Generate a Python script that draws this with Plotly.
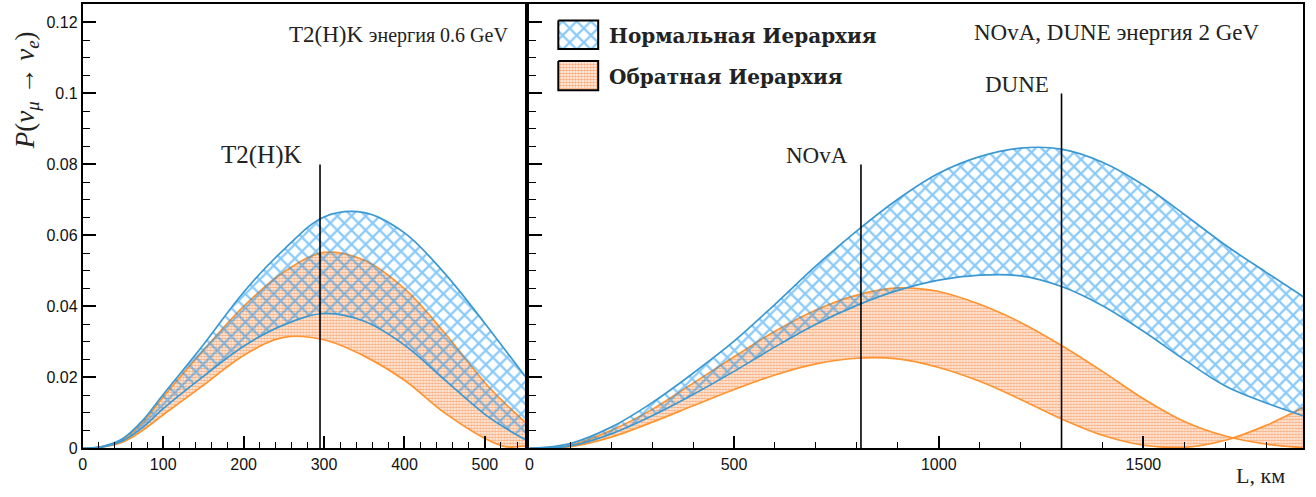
import plotly.graph_objects as go

# ---- T2(H)K, E = 0.6 GeV : oscillation probability bands vs baseline ----
L_t2k = [0, 25, 50, 75, 100, 150, 200, 250, 300, 350, 400, 450, 500, 525, 550]
t2k_nh_max = [0, 0.0006, 0.0028, 0.0080, 0.0152, 0.0292, 0.0440, 0.0560, 0.0652, 0.0664,
              0.0607, 0.0493, 0.0352, 0.0278, 0.0203]
t2k_nh_min = [0, 0.0004, 0.0022, 0.0060, 0.0112, 0.0203, 0.0288, 0.0348, 0.0380, 0.0358,
              0.0291, 0.0193, 0.0096, 0.0058, 0.0025]
t2k_ih_max = [0, 0.0005, 0.0026, 0.0074, 0.0145, 0.0276, 0.0400, 0.0497, 0.0552, 0.0530,
              0.0450, 0.0325, 0.0185, 0.0127, 0.0074]
t2k_ih_min = [0, 0.0004, 0.0018, 0.0052, 0.0095, 0.0178, 0.0262, 0.0313, 0.0306, 0.0260,
              0.0192, 0.0100, 0.0028, 0.0005, 0.0007]

# ---- NOvA / DUNE, E = 2 GeV ----
L_dune = [0, 100, 200, 300, 400, 500, 600, 700, 800, 900, 1000, 1100, 1200, 1300, 1400,
          1500, 1600, 1700, 1800, 1890]
dune_nh_max = [0, 0.0014, 0.0060, 0.0129, 0.0212, 0.0302, 0.0406, 0.0514, 0.0613, 0.0702,
               0.0775, 0.0822, 0.0846, 0.0843, 0.0806, 0.0742, 0.0659, 0.0573, 0.0496, 0.0428]
dune_nh_min = [0, 0.0007, 0.0041, 0.0092, 0.0152, 0.0217, 0.0286, 0.0350, 0.0403, 0.0445,
               0.0474, 0.0488, 0.0486, 0.0456, 0.0402, 0.0330, 0.0250, 0.0176, 0.0128, 0.0092]
dune_ih_a = [0, 0.0009, 0.0051, 0.0110, 0.0184, 0.0258, 0.0330, 0.0390, 0.0432, 0.0452,
             0.0442, 0.0406, 0.0355, 0.0290, 0.0217, 0.0140, 0.0076, 0.0035, 0.0012, 0.0002]
dune_ih_b = [0, 0.0005, 0.0032, 0.0074, 0.0120, 0.0166, 0.0207, 0.0238, 0.0254, 0.0252,
             0.0228, 0.0189, 0.0138, 0.0083, 0.0037, 0.0009, 0.0003, 0.0023, 0.0065, 0.0115]

# ---- experiments: baseline (km) and height of the marker line ----
exp_names = ["T2(H)K", "NOvA", "DUNE"]
exp_L = [295, 810, 1300]
exp_top = [0.08, 0.08, 0.10]
exp_panel = [1, 2, 2]

panel_titles = ["T2(H)K <span style='font-size:20px'>энергия 0.6 GeV</span>",
                "NOvA, DUNE энергия 2 GeV"]
legend_names = ["Нормальная Иерархия", "Обратная Иерархия"]
y_title = "<i>P</i>(<i>ν</i><sub><i>μ</i></sub> → <i>ν</i><sub><i>e</i></sub>)"
x_title = "L, км"

W, H = 1316, 497
BLUE_LINE = "#3a98d2"
BLUE_HATCH = "#1596f5"
ORANGE_LINE = "#ff9430"
ORANGE_DOT = "#f65e00"
SERIF = "Liberation Serif"


def px(x):
    return x / W


def py(y):
    return 1 - y / H


hatch = dict(shape="x", size=10, solidity=0.4, fgcolor=BLUE_HATCH,
             bgcolor="rgba(0,0,0,0)")
dots = dict(shape=".", size=3, solidity=0.62, fgcolor=ORANGE_DOT,
            bgcolor="rgba(0,0,0,0)")

fig = go.Figure()


def band(xs, lo, hi, xa, ya, line_color, pattern):
    ln = dict(color=line_color, width=1.7, shape="spline", smoothing=1.0)
    fig.add_trace(go.Scatter(x=xs, y=lo, mode="lines", line=ln, xaxis=xa, yaxis=ya,
                             showlegend=False, hoverinfo="skip"))
    fig.add_trace(go.Scatter(x=xs, y=hi, mode="lines", line=ln, xaxis=xa, yaxis=ya,
                             fill="tonexty", fillcolor="rgba(0,0,0,0)",
                             fillpattern=pattern, showlegend=False, hoverinfo="skip"))


# orange (inverted) first, blue hatch drawn over it
band(L_t2k, t2k_ih_min, t2k_ih_max, "x", "y", ORANGE_LINE, dots)
band(L_t2k, t2k_nh_min, t2k_nh_max, "x", "y", BLUE_LINE, hatch)
band(L_dune, dune_ih_b, dune_ih_a, "x2", "y2", ORANGE_LINE, dots)
band(L_dune, dune_nh_min, dune_nh_max, "x2", "y2", BLUE_LINE, hatch)

# experiment markers
annotations = []
shapes = []
for name, L, top, p in zip(exp_names, exp_L, exp_top, exp_panel):
    xr = "x" if p == 1 else "x2"
    yr = "y" if p == 1 else "y2"
    shapes.append(dict(type="line", xref=xr, yref=yr, x0=L, x1=L, y0=0, y1=top,
                       line=dict(color="black", width=1.6), layer="above"))
    annotations.append(dict(xref=xr, yref=yr, x=L, y=top, text=name, showarrow=False,
                            xanchor="right", yanchor="middle",
                            xshift=-16 if p == 1 else -11, yshift=9,
                            font=dict(family=SERIF, size=25 if p == 1 else 23, color="#222")))

# panel headers
annotations.append(dict(xref="paper", yref="paper", x=px(508), y=py(35), text=panel_titles[0],
                        showarrow=False, xanchor="right", yanchor="middle",
                        font=dict(family=SERIF, size=23, color="#222")))
annotations.append(dict(xref="paper", yref="paper", x=px(1261), y=py(33), text=panel_titles[1],
                        showarrow=False, xanchor="right", yanchor="middle",
                        font=dict(family=SERIF, size=23, color="#222")))

# axis titles
annotations.append(dict(xref="paper", yref="paper", x=px(23), y=py(92), text=y_title,
                        textangle=-90, showarrow=False, xanchor="center", yanchor="middle",
                        font=dict(family=SERIF, size=27, color="#222")))
annotations.append(dict(xref="paper", yref="paper", x=px(1287), y=py(484), text=x_title,
                        showarrow=False, xanchor="right", yanchor="middle",
                        font=dict(family=SERIF, size=22, color="#222")))

# legend: swatches drawn on a pixel-space overlay axis
sw_x0, sw_x1 = 556, 596
sw_rows = [(21, 50), (62, 92)]
for (y0, y1), pat, name in zip(sw_rows, [hatch, dots], legend_names):
    fig.add_trace(go.Scatter(x=[sw_x0, sw_x1, sw_x1, sw_x0, sw_x0],
                             y=[y0, y0, y1, y1, y0], mode="lines", fill="toself",
                             fillcolor="rgba(0,0,0,0)", fillpattern=pat,
                             line=dict(color="black", width=2), xaxis="x3", yaxis="y3",
                             showlegend=False, hoverinfo="skip"))
    annotations.append(dict(xref="paper", yref="paper", x=px(605), y=py((y0 + y1) / 2 + 1),
                            text="<b>" + name + "</b>", showarrow=False, xanchor="left",
                            yanchor="middle",
                            font=dict(family="DejaVu Serif", size=20, color="#222")))

tickfont = dict(family="Liberation Sans", size=16, color="#111")
common = dict(showgrid=False, zeroline=False, showline=True, linecolor="black", linewidth=2,
              mirror=True, ticks="inside", tickcolor="black", tickwidth=1.6, tickfont=tickfont)
minor_x = dict(ticks="inside", ticklen=6, tickcolor="black", tickwidth=1.3, showgrid=False)
minor_y = dict(ticks="inside", ticklen=7, tickcolor="black", tickwidth=1.3, showgrid=False,
               dtick=0.005)

ydom = [1 - 456.7 / H, 1 - 4 / H]
fig.update_layout(
    width=W, height=H,
    margin=dict(l=0, r=0, t=0, b=0),
    paper_bgcolor="white", plot_bgcolor="rgba(0,0,0,0)",
    showlegend=False,
    xaxis=dict(domain=[px(79), px(522.7)], range=[0, 550], dtick=100, tick0=0, ticklen=12,
               minor=dict(dtick=20, **minor_x), anchor="y", **common),
    xaxis2=dict(domain=[px(527), px(1303)], range=[0, 1890], dtick=500, tick0=0, ticklen=12,
                minor=dict(dtick=100, **minor_x), anchor="y2", **common),
    yaxis=dict(domain=ydom, range=[0, 0.1252], dtick=0.02, tick0=0, ticklen=13,
               minor=minor_y, anchor="x", **common),
    yaxis2=dict(domain=ydom, range=[0, 0.1252], dtick=0.02, tick0=0, ticklen=13,
                minor=minor_y, anchor="x2", showticklabels=False, **common),
    xaxis3=dict(domain=[0, 1], range=[0, W], visible=False, anchor="y3", fixedrange=True),
    yaxis3=dict(domain=[0, 1], range=[H, 0], visible=False, anchor="x3", fixedrange=True),
    annotations=annotations,
    shapes=shapes,
)

fig.write_html("out.html")
